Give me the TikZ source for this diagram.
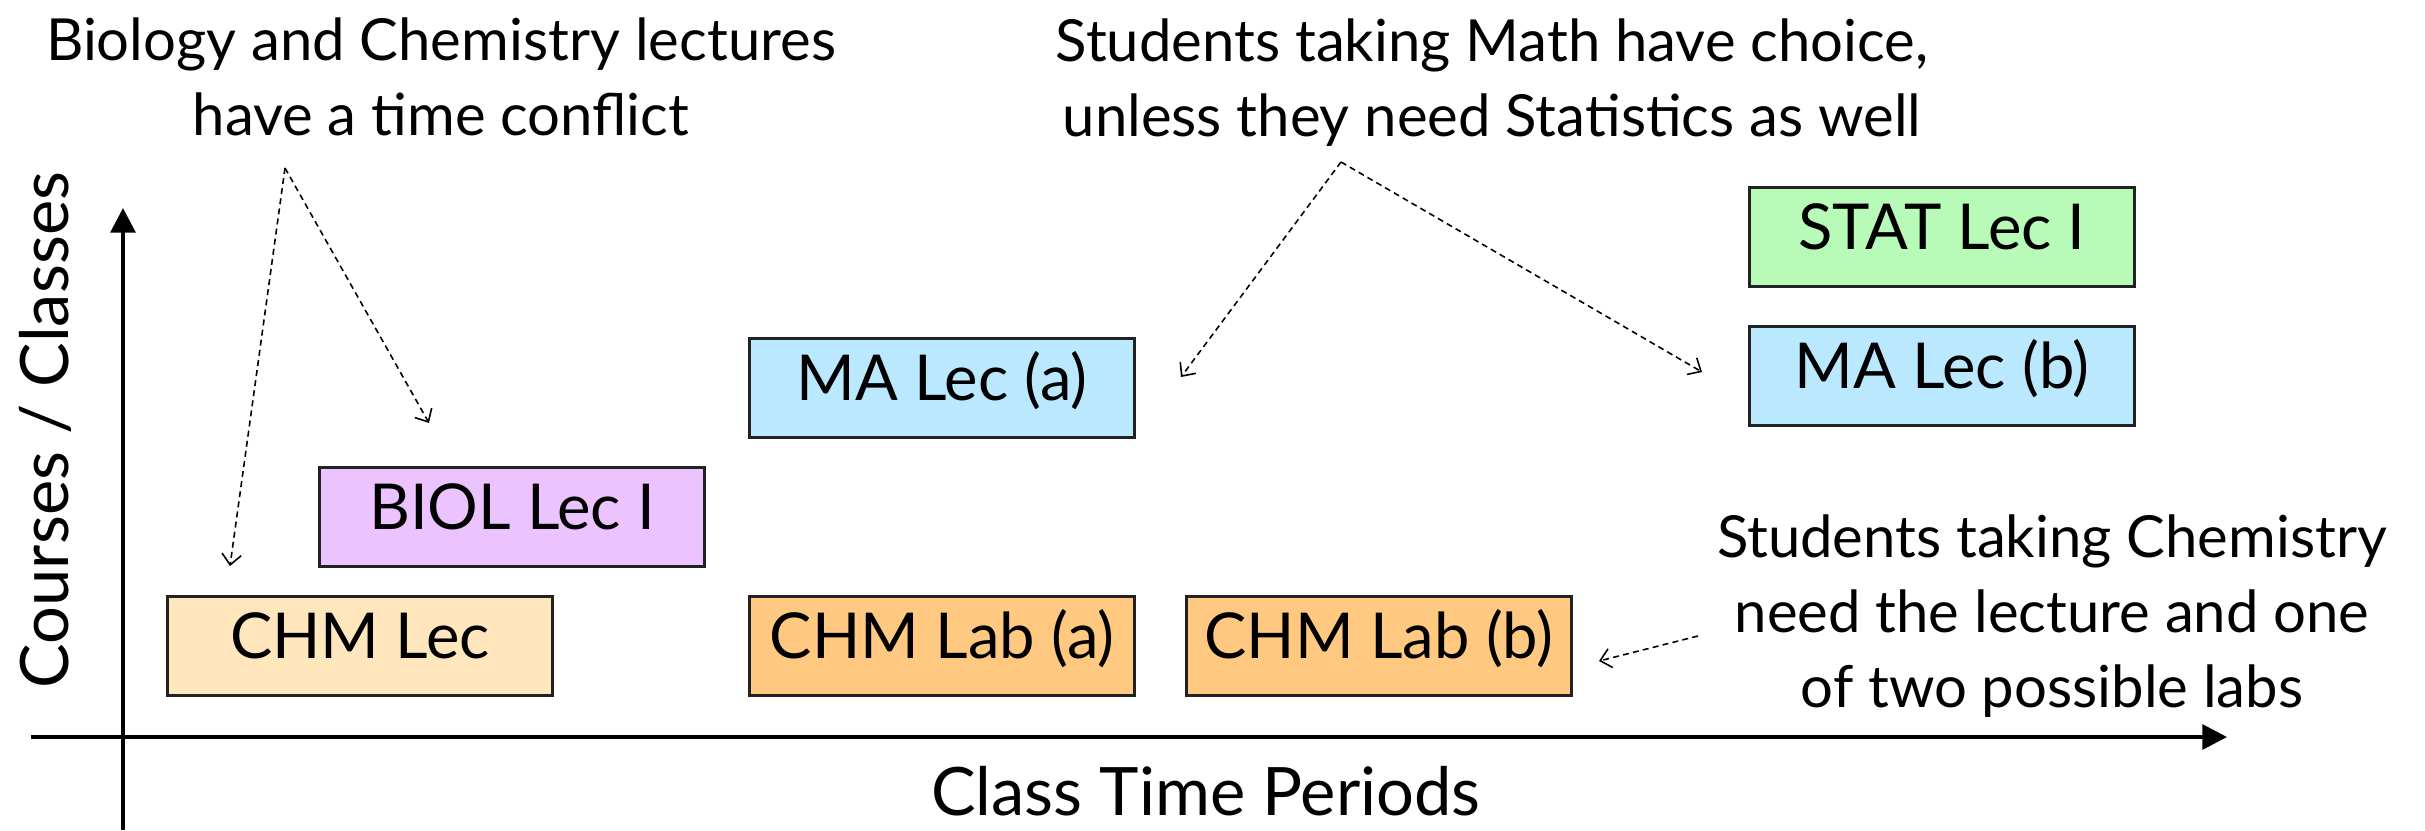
\documentclass[tikz,border=0pt]{standalone}
\usepackage{fontspec}
\setmainfont{Lato}
\usepackage{tikz}
\usetikzlibrary{arrows.meta}
\definecolor{SlotChemLec}{HTML}{FFE6BC}
\definecolor{SlotChemLab}{HTML}{FFC982}
\definecolor{SlotBiol}{HTML}{EBC4FF}
\definecolor{SlotMath}{HTML}{BAE9FF}
\definecolor{SlotStat}{HTML}{B8FAB8}
\definecolor{SlotEdge}{HTML}{222222}

\begin{document}
\begin{tikzpicture}[
  x=0.01cm,
  y=-0.01cm,
  slot/.style={
    draw=SlotEdge,
    line width=0.7pt,
    minimum width=3.85cm,
    minimum height=0.99cm,
    inner sep=0pt,
    text height=0.72em,
    text depth=0pt,
    font=\fontsize{18}{20}\selectfont
  },
  note/.style={
    align=center,
    inner sep=0pt,
    font=\fontsize{16.5}{21.3}\selectfont
  },
  axislabel/.style={
    inner sep=0pt,
    font=\fontsize{19}{22}\selectfont
  },
  axis/.style={
    -{Triangle[length=7pt,width=7pt]},
    line width=1.15pt
  },
  hint/.style={
    -{Straight Barb[length=3pt,width=5.5pt]},
    line width=0.45pt,
    dash pattern=on 1.7pt off 1.2pt
  }
]

\useasboundingbox (0,0) rectangle (2425,830);

% axes
\coordinate (ybot) at (123,830);
\coordinate (ytop) at (123,208);
\coordinate (xleft) at (31,737);
\coordinate (xright) at (2227,737);
\draw[axis] (ybot) -- (ytop);
\draw[axis] (xleft) -- (xright);
\node[axislabel,rotate=90,anchor=base] (ylabel) at (68,430) {Courses / Classes};
\node[axislabel,anchor=base] (xlabel) at (1206,815) {Class Time Periods};

% time slots
\node[slot,fill=SlotChemLec] (chmlec) at (360,646) {CHM Lec};
\node[slot,fill=SlotBiol] (biollec) at (512,517) {BIOL Lec I};
\node[slot,fill=SlotMath] (malecA) at (942,388) {MA Lec (a)};
\node[slot,fill=SlotChemLab] (chmlabA) at (942,646) {CHM Lab (a)};
\node[slot,fill=SlotChemLab] (chmlabB) at (1379,646) {CHM Lab (b)};
\node[slot,fill=SlotStat] (statlec) at (1942,237) {STAT Lec I};
\node[slot,fill=SlotMath] (malecB) at (1942,376) {MA Lec (b)};

% notes
\node[note] (bionote) at (441,77)
  {Biology and Chemistry lectures\\have a time conflict};
\node[note] (manote) at (1492,83)
  {Students taking Math have choice,\\unless they need Statistics as well};
\node[note] (chmnote) at (2052,616)
  {Students taking Chemistry\\need the lecture and one\\of two possible labs};

\coordinate (bioapex) at (285,168);
\coordinate (biotochm) at (230,566);
\coordinate (biotobiol) at (429,423);
\draw[hint] (bioapex) -- (biotochm);
\draw[hint] (bioapex) -- (biotobiol);

\coordinate (maapex) at (1341,162);
\coordinate (matoA) at (1181,377);
\coordinate (matoB) at (1702,372);
\draw[hint] (maapex) -- (matoA);
\draw[hint] (maapex) -- (matoB);

\coordinate (chmfrom) at (1698,636);
\coordinate (chmto) at (1599,661);
\draw[hint] (chmfrom) -- (chmto);

\end{tikzpicture}
\end{document}
